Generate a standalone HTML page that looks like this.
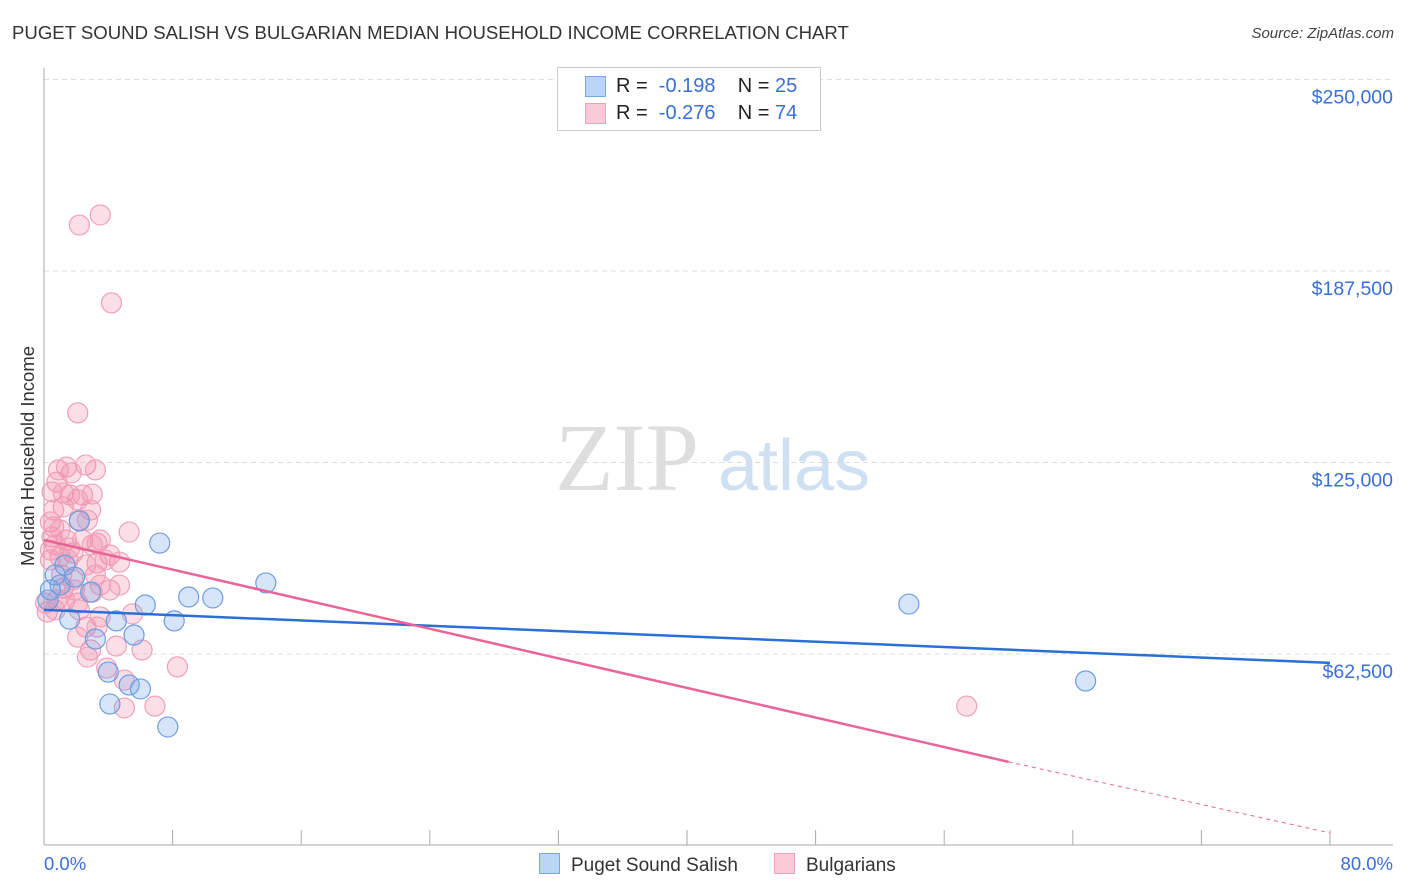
<!DOCTYPE html>
<html><head><meta charset="utf-8"><style>
body{margin:0;background:#fff;font-family:"Liberation Sans",sans-serif;}
#wrap{position:relative;width:1406px;height:892px;overflow:hidden}
.t{position:absolute;white-space:nowrap}
</style></head><body>
<div id="wrap">
<div class="t" style="left:12px;top:22px;font-size:18.6px;color:#333">PUGET SOUND SALISH VS BULGARIAN MEDIAN HOUSEHOLD INCOME CORRELATION CHART</div>
<div class="t" style="right:12px;top:25px;font-size:15px;color:#444;font-style:italic">Source: ZipAtlas.com</div>
<svg id="svg" width="1406" height="892" style="position:absolute;left:0;top:0"></svg>
</div>
<script>
const blueX=[2.2,7.2,13.8,9.0,10.5,6.3,53.8,1.6,4.5,8.1,5.6,3.2,4.0,5.3,6.0,4.1,7.7,64.8,0.4,1.0,1.9,2.9,1.3,0.25,0.7];
const blueY=[105900,98700,85700,81100,80800,78500,78800,73900,73300,73300,68700,67400,56600,52400,51100,46200,38700,53700,83400,85000,87600,82700,91500,80100,88300];
const pinkX=[3.5,2.2,4.2,2.1,1.4,2.6,1.7,0.8,0.5,1.2,2.4,3.0,1.2,0.6,0.4,0.6,5.3,0.5,1.4,2.4,3.3,4.1,4.7,3.3,1.8,1.0,0.4,1.8,3.5,3.0,1.2,2.1,0.8,0.2,5.5,3.5,2.6,3.3,2.1,2.9,2.7,4.5,6.1,8.3,3.9,5.0,5.0,6.9,57.4,0.7,1.6,2.2,2.9,1.0,1.9,3.2,1.3,2.6,3.8,0.4,1.1,2.7,2.1,0.9,3.2,1.6,3.5,0.7,2.2,1.5,3.0,0.1,4.1,4.7];
const pinkY=[205800,202500,177100,141200,123500,124200,121600,118600,115400,115100,114400,114700,110500,109500,105600,104000,102300,100700,99700,99700,98700,94800,92500,92200,95500,94200,93200,86700,85000,82700,84000,79100,80100,76200,75600,74600,71300,71300,68000,63800,61500,65100,63800,58300,57900,54000,44900,45500,45500,98100,97100,106200,109500,103000,83400,88300,80100,91500,93200,96400,88300,106200,112800,122600,122600,114400,99700,76900,76900,93200,98100,79100,83400,85000];
const blueTrend=[76900,59600];
const pinkTrend=[99700,27300,4100];
const yTicks=[62500,125000,187500,250000];
const yTickLabels=["$62,500","$125,000","$187,500","$250,000"];
const xTickVals=[0,8,16,24,32,40,48,56,64,72,80];

const X=p=>44+p/80*1286;
const Y=v=>654-(v-62500)/62500*191.5;
const svg=document.getElementById('svg');
const NS='http://www.w3.org/2000/svg';
function mk(tag,attrs,parent){const e=document.createElementNS(NS,tag);for(const k in attrs)e.setAttribute(k,attrs[k]);(parent||svg).appendChild(e);return e;}

let w=mk('text',{x:555,y:490,'font-family':'Liberation Serif,serif','font-size':96,fill:'#dedede'});w.textContent='ZIP';


let w2=mk('text',{x:718,y:490,'font-family':'Liberation Sans,sans-serif','font-size':72,fill:'#cfe0f3'});w2.textContent='atlas';



yTicks.forEach((v,i)=>{
  const g=mk('line',{x1:44,x2:1393,y1:Y(v),y2:Y(v),stroke:'#ddd','stroke-dasharray':'5,4'});
  
  
  const t=mk('text',{x:1393,y:Y(v)+24,'text-anchor':'end','font-size':19.5,fill:'#3a6fd8','font-family':'Liberation Sans,sans-serif'});
  t.textContent=yTickLabels[i];
  
  
});
let ax=mk('line',{x1:44,x2:44,y1:68,y2:845,stroke:'#aaa'});


let bx=mk('line',{x1:44,x2:1393,y1:845,y2:845,stroke:'#aaa'});


xTickVals.forEach(p=>{
  const l=mk('line',{x1:X(p),x2:X(p),y1:830,y2:845,stroke:'#aaa'});
  
  
});
let yt=mk('text',{x:34,y:456,'text-anchor':'middle','font-size':18.5,fill:'#333',transform:'rotate(-90 34 456)','font-family':'Liberation Sans,sans-serif'});
yt.textContent='Median Household Income';


let x0=mk('text',{x:44,y:870,'font-size':18.5,fill:'#3a6fd8','font-family':'Liberation Sans,sans-serif'});x0.textContent='0.0%';


let x1=mk('text',{x:1393,y:870,'text-anchor':'end','font-size':18.5,fill:'#3a6fd8','font-family':'Liberation Sans,sans-serif'});x1.textContent='80.0%';



pinkX.forEach((p,i)=>{
  const c=mk('circle',{cx:X(p),cy:Y(pinkY[i]),r:10,fill:'rgba(240,140,170,0.28)',stroke:'#f0a0b8','stroke-width':1.2});
  
  
});
blueX.forEach((p,i)=>{
  const c=mk('circle',{cx:X(p),cy:Y(blueY[i]),r:10,fill:'rgba(110,160,235,0.28)',stroke:'#6c9de2','stroke-width':1.2});
  
  
});
let bl=mk('line',{x1:X(0),y1:Y(blueTrend[0]),x2:X(80),y2:Y(blueTrend[1]),stroke:'#2a6fd6','stroke-width':2.5});


let pl=mk('line',{x1:X(0),y1:Y(pinkTrend[0]),x2:X(60),y2:Y(pinkTrend[1]),stroke:'#e8649a','stroke-width':2.5});


let pd=mk('line',{x1:X(60),y1:Y(pinkTrend[1]),x2:X(80),y2:Y(pinkTrend[2]),stroke:'#e8649a','stroke-width':1,'stroke-dasharray':'4,4'});


</script>
<div class="t" style="left:557px;top:67px;width:262px;height:62px;border:1px solid #ccc;background:#fff">
  <div style="position:absolute;left:27px;top:8px;width:19px;height:19px;background:#bcd4f6;border:1px solid #7aa6e6"></div>
  <div style="position:absolute;left:27px;top:35px;width:19px;height:19px;background:#fbcad8;border:1px solid #f0a0b8"></div>
  <div class="t" style="left:58px;top:7px;font-size:20px;color:#222">R = &nbsp;<span style="color:#3a6fd8">-0.198</span>&nbsp;&nbsp;&nbsp; N = <span style="color:#3a6fd8">25</span></div>
  <div class="t" style="left:58px;top:34px;font-size:20px;color:#222">R = &nbsp;<span style="color:#3a6fd8">-0.276</span>&nbsp;&nbsp;&nbsp; N = <span style="color:#3a6fd8">74</span></div>
</div>
<div class="t" style="left:539px;top:853px;font-size:19px;color:#333"><span style="display:inline-block;width:19px;height:19px;background:#bcd4f6;border:1px solid #7aa6e6;vertical-align:-3px;margin-right:11px"></span>Puget Sound Salish</div>
<div class="t" style="left:774px;top:853px;font-size:19px;color:#333"><span style="display:inline-block;width:19px;height:19px;background:#fbcad8;border:1px solid #f0a0b8;vertical-align:-3px;margin-right:11px"></span>Bulgarians</div>
</body></html>
